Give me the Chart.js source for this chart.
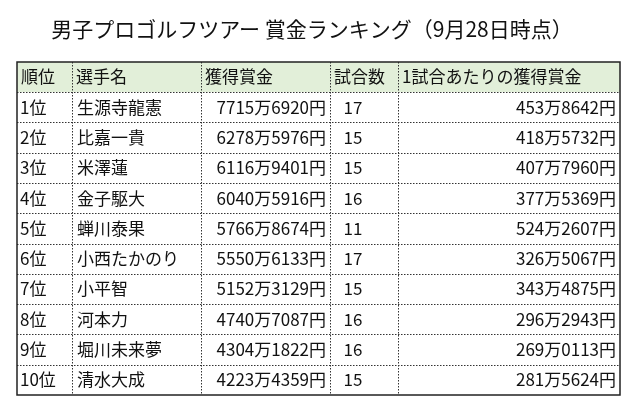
<!DOCTYPE html><html><head><meta charset="utf-8"><script src="https://cdn.jsdelivr.net/npm/chart.js@4"></script>
<style>html,body{margin:0;background:#fff}#w{width:640px;height:416px}</style></head><body><div id="w"><canvas id="c"></canvas></div><script>
const title='男子プロゴルフツアー 賞金ランキング（9月28日時点）';
const headers=['順位','選手名','獲得賞金','試合数','1試合あたりの獲得賞金'];
const ranks=['1位','2位','3位','4位','5位','6位','7位','8位','9位','10位'];
const players=['生源寺龍憲','比嘉一貴','米澤蓮','金子駆大','蝉川泰果','小西たかのり','小平智','河本力','堀川未来夢','清水大成'];
const prize=['7715万6920円','6278万5976円','6116万9401円','6040万5916円','5766万8674円','5550万6133円','5152万3129円','4740万7087円','4304万1822円','4223万4359円'];
const games=[17,15,15,16,11,17,15,16,16,15];
const perGame=['453万8642円','418万5732円','407万7960円','377万5369円','524万2607円','326万5067円','343万4875円','296万2943円','269万0113円','281万5624円'];
const colEdges=[17,72,201,330,398,620];
const tableTop=62, headH=30, rowH=30.3;
const F='"Noto Sans CJK JP","Noto Sans",sans-serif';
const tablePlugin={id:'tbl',afterDraw(ch){
 const c=ch.ctx,X=v=>ch.scales.x.getPixelForValue(v),Y=v=>ch.scales.y.getPixelForValue(v);
 c.save();
 c.fillStyle='#111';c.font='21px '+F;c.textAlign='center';c.textBaseline='middle';
 c.fillText(title,X(312),Y(29));
 const bottom=tableTop+headH+rowH*ranks.length;
 c.fillStyle='#e2efd9';c.fillRect(X(17),Y(tableTop),X(620)-X(17),headH);
 c.strokeStyle='#333';c.lineWidth=1;c.setLineDash([1.5,1.5]);
 for(let i=1;i<colEdges.length-1;i++){c.beginPath();c.moveTo(X(colEdges[i])+.5,Y(tableTop));c.lineTo(X(colEdges[i])+.5,Y(bottom));c.stroke();}
 for(let r=0;r<=ranks.length-1;r++){const y=Math.round(Y(tableTop+headH+r*rowH))+.5;c.beginPath();c.moveTo(X(17),y);c.lineTo(X(620),y);c.stroke();}
 c.setLineDash([]);c.lineWidth=1.5;c.strokeStyle='#222';c.strokeRect(X(17),Y(tableTop),X(620)-X(17),Y(bottom)-Y(tableTop));
 c.fillStyle='#111';c.font='17px '+F;c.textAlign='left';
 headers.forEach((h,i)=>c.fillText(h,X(colEdges[i])+4,Y(tableTop+headH/2)));
 ranks.forEach((r,i)=>{const y=Y(tableTop+headH+rowH*i+rowH/2);
  c.textAlign='left';c.fillText(r,X(colEdges[0])+3,y);c.fillText(players[i],X(colEdges[1])+5,y);
  c.textAlign='right';c.fillText(prize[i],X(colEdges[3])-4,y);c.fillText(perGame[i],X(colEdges[5])-4,y);
  c.textAlign='center';c.fillText(String(games[i]),X(353),y);});
 c.restore();}};
new Chart(document.getElementById('c'),{type:'scatter',data:{datasets:[{data:[]}]},plugins:[tablePlugin],
 options:{responsive:true,maintainAspectRatio:false,animation:false,layout:{padding:0},
  plugins:{legend:{display:false},tooltip:{enabled:false}},
  scales:{x:{type:'linear',min:0,max:640,display:false},y:{type:'linear',min:0,max:416,reverse:true,display:false}}}});
</script></body></html>
